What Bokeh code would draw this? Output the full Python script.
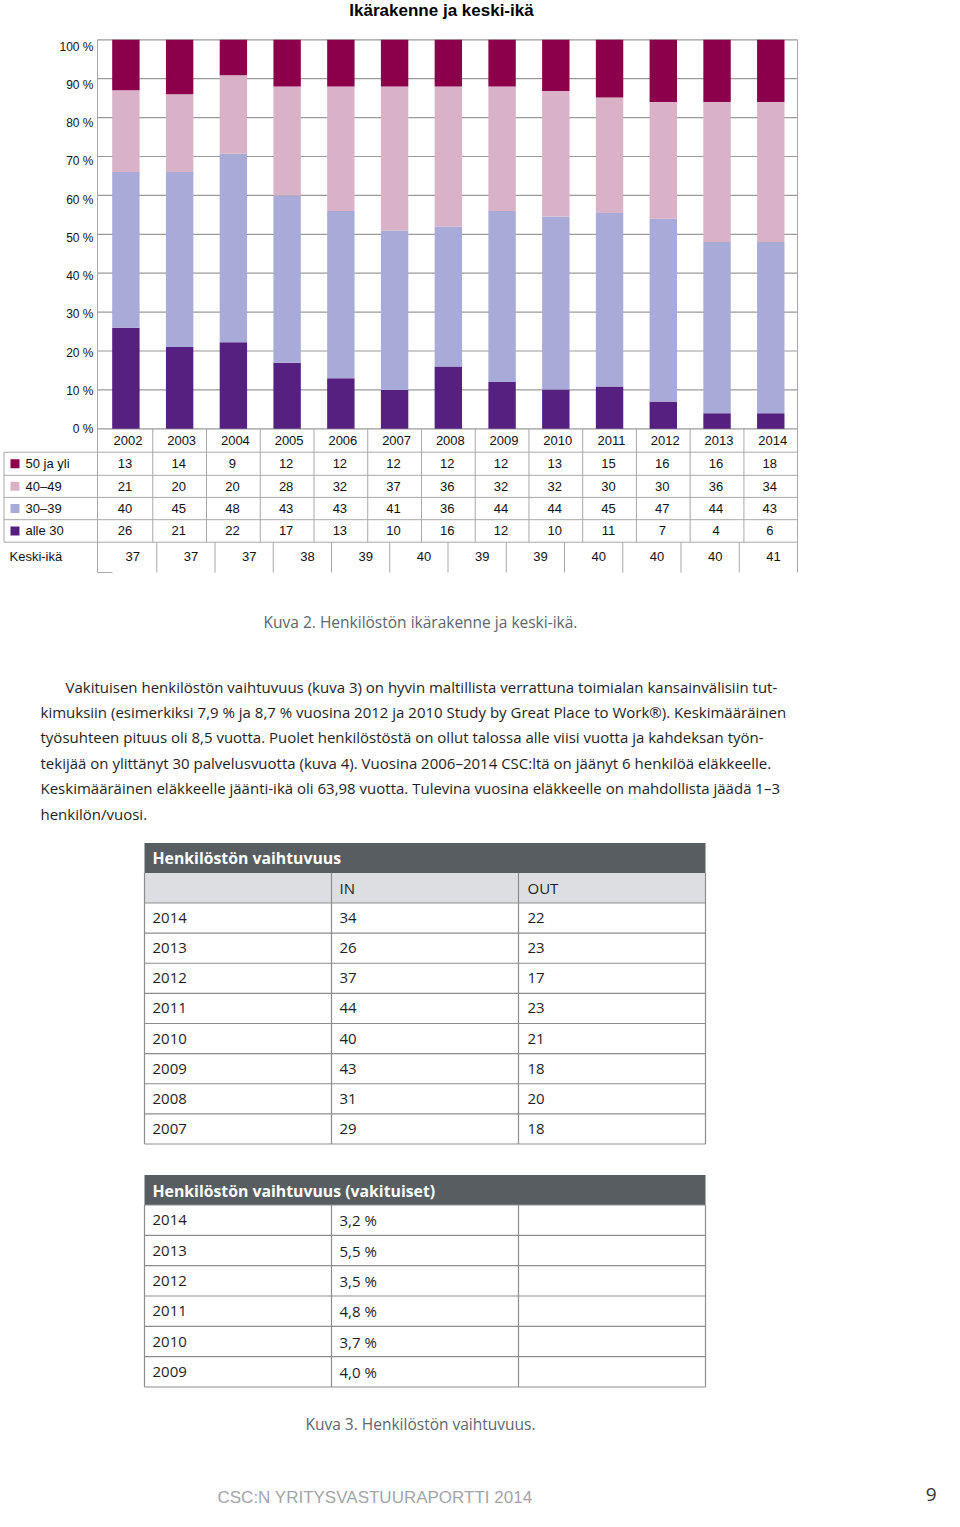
import numpy as np
from bokeh.plotting import figure
from bokeh.models import Range1d, ColumnDataSource
from bokeh.core.properties import value
from bokeh.embed import file_html
from bokeh.resources import INLINE

# ---------------- data ----------------
years = ["2002", "2003", "2004", "2005", "2006", "2007", "2008",
         "2009", "2010", "2011", "2012", "2013", "2014"]
# values printed in the table under the chart
age_50_plus = [13, 14, 9, 12, 12, 12, 12, 12, 13, 15, 16, 16, 18]
age_40_49 = [21, 20, 20, 28, 32, 37, 36, 32, 32, 30, 30, 36, 34]
age_30_39 = [40, 45, 48, 43, 43, 41, 36, 44, 44, 45, 47, 44, 43]
age_under_30 = [26, 21, 22, 17, 13, 10, 16, 12, 10, 11, 7, 4, 6]
# values as drawn by the bars (the 2014 bar repeats the 2013 shares in the original)
bar_50_plus = [13, 14, 9, 12, 12, 12, 12, 12, 13, 15, 16, 16, 16]
bar_40_49 = [21, 20, 20, 28, 32, 37, 36, 32, 32, 30, 30, 36, 36]
bar_30_39 = [40, 45, 48, 43, 43, 41, 36, 44, 44, 45, 47, 44, 44]
bar_under_30 = [26, 21, 22, 17, 13, 10, 16, 12, 10, 11, 7, 4, 4]
mean_age = [37, 37, 37, 38, 39, 40, 39, 39, 40, 40, 40, 41]
legend_labels = ["50 ja yli", "40–49", "30–39", "alle 30"]
pct_ticks = [0, 10, 20, 30, 40, 50, 60, 70, 80, 90, 100]

turn_years = ["2014", "2013", "2012", "2011", "2010", "2009", "2008", "2007"]
turn_in = [34, 26, 37, 44, 40, 43, 31, 29]
turn_out = [22, 23, 17, 23, 21, 18, 20, 18]
perm_years = ["2014", "2013", "2012", "2011", "2010", "2009"]
perm_rate = [3.2, 5.5, 3.5, 4.8, 3.7, 4.0]

title = "Ikärakenne ja keski-ikä"
caption2 = "Kuva 2. Henkilöstön ikärakenne ja keski-ikä."
caption3 = "Kuva 3. Henkilöstön vaihtuvuus."
paragraph = [
    "Vakituisen henkilöstön vaihtuvuus (kuva 3) on hyvin maltillista verrattuna toimialan kansainvälisiin tut-",
    "kimuksiin (esimerkiksi 7,9 % ja 8,7 % vuosina 2012 ja 2010 Study by Great Place to Work®). Keskimääräinen",
    "työsuhteen pituus oli 8,5 vuotta. Puolet henkilöstöstä on ollut talossa alle viisi vuotta ja kahdeksan työn-",
    "tekijää on ylittänyt 30 palvelusvuotta (kuva 4). Vuosina 2006–2014 CSC:ltä on jäänyt 6 henkilöä eläkkeelle.",
    "Keskimääräinen eläkkeelle jäänti-ikä oli 63,98 vuotta. Tulevina vuosina eläkkeelle on mahdollista jäädä 1–3",
    "henkilön/vuosi.",
]
footer = "CSC:N YRITYSVASTUURAPORTTI 2014"
page_no = "9"

# ---------------- styles ----------------
C50, C40, C30, CU30 = "#8C004B", "#D9B2C8", "#A8AAD8", "#55207F"
GRID = "#9a9a9a"
TLINE = "#a8a8a8"
ARIAL = value("Liberation Sans")
BODY = value("Open Sans")
TXT = "#1e1e1e"
CAP = "#5b6670"

W, H = 944, 1511
p = figure(width=W, height=H, x_range=Range1d(0, W), y_range=Range1d(H, 0),
           output_backend="svg", toolbar_location=None, min_border=0,
           x_axis_location=None, y_axis_location=None)
p.grid.visible = False
p.outline_line_color = None
p.background_fill_color = "white"

# chart scales: bar index -> page, percent -> page
bar_c0, bar_step = 125.4, 53.74
p.extra_x_ranges = {"yr": Range1d((0 - bar_c0) / bar_step, (W - bar_c0) / bar_step)}
y0, ppp = 428.3, 3.89
p.extra_y_ranges = {
    "pct": Range1d((y0 - H) / ppp, (y0 - 0) / ppp),
    "pctlab": Range1d((428.5 - H) / 3.823, (428.5 - 0) / 3.823),
}
n = len(years)
xi = np.arange(n)

# title
p.text(x=[441], y=[10], text=[title], text_font=ARIAL, text_font_style="bold",
       text_font_size="17px", text_align="center", text_baseline="middle", text_color="black")

# grid lines
p.segment(x0=97, x1=797, y0=pct_ticks, y1=pct_ticks, y_range_name="pct",
          line_color=GRID, line_width=1.2)
p.text(x=93, y=pct_ticks, text=[f"{t} %" for t in pct_ticks], y_range_name="pctlab",
       text_font=ARIAL, text_font_size="12px", text_align="right",
       text_baseline="middle", text_color="#111")

# stacked bars (100 % normalised)
b50, b40, b30, bu30 = (np.array(a, dtype=float) for a in (bar_50_plus, bar_40_49, bar_30_39, bar_under_30))
tot = b50 + b40 + b30 + bu30
src = ColumnDataSource(dict(
    x=xi,
    u30=bu30 / tot * 100,
    a30=b30 / tot * 100,
    a40=b40 / tot * 100,
    a50=b50 / tot * 100,
))
p.vbar_stack(["u30", "a30", "a40", "a50"], x="x", width=0.51, color=[CU30, C30, C40, C50],
             line_color=None, source=src, x_range_name="yr", y_range_name="pct")

# frame borders
p.segment(x0=[97, 797], x1=[97, 797], y0=39.3, y1=572, line_color=TLINE, line_width=1)

# data table under chart
row_tops = [428.3, 451.7, 474.8, 496.9, 519.2, 541.7]
row_mid = [(row_tops[i] + row_tops[i + 1]) / 2 for i in range(5)]
p.segment(x0=3.5, x1=797, y0=row_tops[1:], y1=row_tops[1:], line_color=TLINE, line_width=1)
p.segment(x0=3.5, x1=3.5, y0=row_tops[1], y1=row_tops[-1], line_color=TLINE, line_width=1)
bounds = np.arange(1, n) - 0.5
p.segment(x0=bounds, x1=bounds, y0=row_tops[0], y1=row_tops[-1], x_range_name="yr",
          line_color=TLINE, line_width=1)
# keski-ikä row has its own column division
nk = len(mean_age)
kw = (797 - 98) / nk
kb = 98 + kw * np.arange(1, nk)
p.segment(x0=kb, x1=kb, y0=541.7, y1=572, line_color=TLINE, line_width=1)
p.segment(x0=[97], x1=[112], y0=[572], y1=[572], line_color=TLINE, line_width=1)

p.text(x=xi, y=row_mid[0], text=years, x_range_name="yr", x_offset=2,
       text_font=ARIAL, text_font_size="13px", text_align="center", text_baseline="middle",
       text_color="#111")
for vals, ym in zip([age_50_plus, age_40_49, age_30_39, age_under_30], row_mid[1:]):
    p.text(x=xi, y=ym, text=[str(v) for v in vals], x_range_name="yr", x_offset=-1,
           text_font=ARIAL, text_font_size="13px", text_align="center", text_baseline="middle",
           text_color="#111")
p.text(x=98 + kw * (np.arange(nk) + 0.5), y=556, text=[str(v) for v in mean_age], x_offset=5,
       text_font=ARIAL, text_font_size="13px", text_align="center", text_baseline="middle",
       text_color="#111")

# legend column
p.rect(x=14.5, y=row_mid[1:], width=9, height=9, fill_color=[C50, C40, C30, CU30], line_color=None)
p.text(x=25, y=row_mid[1:], text=legend_labels, text_font=ARIAL, text_font_size="13px",
       text_align="left", text_baseline="middle", text_color="#111")
p.text(x=[9], y=[556], text=["Keski-ikä"], text_font=ARIAL, text_font_size="13px",
       text_align="left", text_baseline="middle", text_color="#111")

# caption 2
p.text(x=[420], y=[621], text=[caption2], text_font=BODY, text_font_size="15.5px",
       text_align="center", text_baseline="middle", text_color=CAP)

# paragraph
par_x = [65] + [40] * (len(paragraph) - 1)
par_y = 686 + 25.45 * np.arange(len(paragraph))
p.text(x=par_x, y=par_y, text=paragraph, text_font=BODY, text_font_size="15px",
       text_align="left", text_baseline="middle", text_color=TXT)

# table 1
TX0, TX1 = 144, 705
cols = [144, 331, 518, 705]
HEAD = "#575d61"
SUB = "#dcdee1"
p.quad(left=TX0, right=TX1, top=842.5, bottom=872.5, fill_color=HEAD, line_color=None)
p.text(x=[152], y=[857.5], text=["Henkilöstön vaihtuvuus"], text_font=BODY,
       text_font_style="bold", text_font_size="15.8px", text_align="left",
       text_baseline="middle", text_color="white")
p.quad(left=TX0, right=TX1, top=872.5, bottom=902.5, fill_color=SUB, line_color=None)
p.text(x=[339, 527], y=[887.5, 887.5], text=["IN", "OUT"], text_font=BODY, text_font_size="15px",
       text_align="left", text_baseline="middle", text_color=TXT)
rh1 = (1143.5 - 902.5) / len(turn_years)
t1_lines = 902.5 + rh1 * np.arange(len(turn_years) + 1)
p.segment(x0=TX0, x1=TX1, y0=t1_lines, y1=t1_lines, line_color="#8d8d8d", line_width=1.2)
p.segment(x0=cols, x1=cols, y0=872.5, y1=1143.5, line_color="#8d8d8d", line_width=1.2)
t1_mid = 902.5 + rh1 * (np.arange(len(turn_years)) + 0.5)
for cx, vals in zip([152, 339, 527], [turn_years, turn_in, turn_out]):
    p.text(x=cx, y=t1_mid, text=[str(v) for v in vals], text_font=BODY, text_font_size="15px",
           text_align="left", text_baseline="middle", text_color=TXT)

# table 2
p.quad(left=TX0, right=TX1, top=1174.5, bottom=1204.5, fill_color=HEAD, line_color=None)
p.text(x=[152], y=[1190], text=["Henkilöstön vaihtuvuus (vakituiset)"], text_font=BODY,
       text_font_style="bold", text_font_size="15.8px", text_align="left",
       text_baseline="middle", text_color="white")
rh2 = (1386.5 - 1204.5) / len(perm_years)
t2_lines = 1204.5 + rh2 * np.arange(len(perm_years) + 1)
p.segment(x0=TX0, x1=TX1, y0=t2_lines, y1=t2_lines, line_color="#8d8d8d", line_width=1.2)
p.segment(x0=cols, x1=cols, y0=1204.5, y1=1386.5, line_color="#8d8d8d", line_width=1.2)
t2_mid = 1204.5 + rh2 * (np.arange(len(perm_years)) + 0.5)
p.text(x=152, y=t2_mid, text=perm_years, text_font=BODY, text_font_size="15px",
       text_align="left", text_baseline="middle", text_color=TXT)
p.text(x=339, y=t2_mid, text=[f"{v:.1f}".replace(".", ",") + " %" for v in perm_rate],
       text_font=BODY, text_font_size="15px", text_align="left", text_baseline="middle",
       text_color=TXT)

# caption 3
p.text(x=[420], y=[1423], text=[caption3], text_font=BODY, text_font_size="15.5px",
       text_align="center", text_baseline="middle", text_color=CAP)

# footer
p.text(x=[217], y=[1497], text=[footer], text_font=value("Liberation Sans"),
       text_font_size="17px", text_align="left", text_baseline="middle", text_color="#a3a5a8")
p.text(x=[936], y=[1494], text=[page_no], text_font=BODY, text_font_size="19px",
       text_align="right", text_baseline="middle", text_color="#333")

open("out.html", "w").write(file_html(p, INLINE))
